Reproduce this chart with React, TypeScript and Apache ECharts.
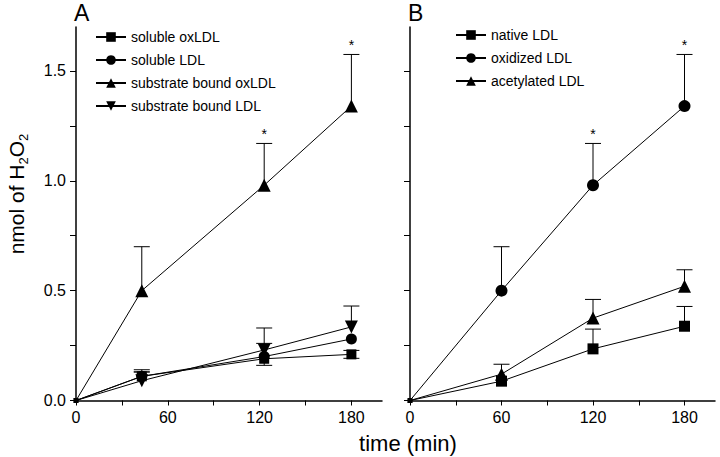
import { useEffect, useRef } from 'react';
import * as echarts from 'echarts';

// ---- Panel A data ----
const A_TIME = [0, 43, 123, 180];
const A_SOLUBLE_OX = [0, 0.11, 0.19, 0.21];
const A_SOLUBLE_OX_UP = [0, 0.03, 0, 0.018];
const A_SOLUBLE_OX_DOWN = [0, 0, 0.03, 0.018];
const A_SOLUBLE_LDL = [0, 0.11, 0.2, 0.28];
const A_SOLUBLE_LDL_UP = [0, 0.02, 0.06, 0];
const A_SUB_OX = [0, 0.5, 0.98, 1.34];
const A_SUB_OX_UP = [0, 0.2, 0.19, 0.235];
const A_SUB_OX_STAR = [0, 0, 1, 1];
const A_SUB_LDL = [0, 0.09, 0.23, 0.335];
const A_SUB_LDL_UP = [0, 0.04, 0.1, 0.095];

// ---- Panel B data ----
const B_TIME = [0, 60, 120, 180];
const B_NATIVE = [0, 0.088, 0.235, 0.338];
const B_NATIVE_UP = [0, 0, 0.09, 0.09];
const B_OXIDIZED = [0, 0.5, 0.98, 1.34];
const B_OXIDIZED_UP = [0, 0.2, 0.19, 0.235];
const B_OXIDIZED_STAR = [0, 0, 1, 1];
const B_ACETYLATED = [0, 0.12, 0.375, 0.52];
const B_ACETYLATED_UP = [0, 0.045, 0.085, 0.075];

const X_TICKS = [0, 30, 60, 90, 120, 150, 180];
const X_LABELS = [0, 60, 120, 180];
const Y_TICKS = [0, 0.25, 0.5, 0.75, 1, 1.25, 1.5];
const Y_LABELS = [0, 0.5, 1, 1.5];

const FONT = 'Liberation Sans, Arial, Helvetica, sans-serif';

function pairs(xs: number[], ys: number[]) {
  return xs.map((x, i) => (i === 0 ? { value: [x, ys[i]], symbolSize: 5 } : [x, ys[i]]));
}

function errData(xs: number[], ys: number[], up: number[], down?: number[], star?: number[]) {
  return xs.map((x, i) => [x, ys[i], up[i] || 0, down ? down[i] || 0 : 0, star ? star[i] || 0 : 0]);
}

function lineSeries(name: string, grid: number, xs: number[], ys: number[], symbol: string, size: number, rotate = 0) {
  return {
    name,
    type: 'line',
    xAxisIndex: grid,
    yAxisIndex: grid,
    data: pairs(xs, ys),
    symbol,
    symbolSize: size,
    symbolRotate: rotate,
    showAllSymbol: true,
    itemStyle: { color: '#000' },
    lineStyle: { color: '#000', width: 1 },
    z: 3,
  };
}

function errSeries(grid: number, data: number[][]) {
  return {
    type: 'custom',
    xAxisIndex: grid,
    yAxisIndex: grid,
    silent: true,
    z: 2,
    data,
    encode: { x: 0, y: 1 },
    renderItem: (_params: any, api: any) => {
      const x = api.value(0);
      const y = api.value(1);
      const up = api.value(2);
      const down = api.value(3);
      const star = api.value(4);
      const c = api.coord([x, y]);
      const style = { stroke: '#000', lineWidth: 1 };
      const children: any[] = [];
      if (up > 0) {
        const t = api.coord([x, y + up]);
        children.push({ type: 'line', shape: { x1: c[0], y1: c[1], x2: t[0], y2: t[1] }, style });
        children.push({ type: 'line', shape: { x1: t[0] - 8, y1: t[1], x2: t[0] + 8, y2: t[1] }, style });
        if (star) {
          children.push({
            type: 'text',
            style: { text: '*', x: t[0], y: t[1] - 2, align: 'center', verticalAlign: 'bottom', fontSize: 14, fontFamily: FONT, fill: '#000' },
          });
        }
      }
      if (down > 0) {
        const b = api.coord([x, y - down]);
        children.push({ type: 'line', shape: { x1: c[0], y1: c[1], x2: b[0], y2: b[1] }, style });
        children.push({ type: 'line', shape: { x1: b[0] - 8, y1: b[1], x2: b[0] + 8, y2: b[1] }, style });
      }
      return { type: 'group', children };
    },
  };
}

function xAxis(grid: number) {
  return {
    type: 'value',
    gridIndex: grid,
    min: 0,
    max: 200,
    axisLine: { show: true, onZero: false, lineStyle: { color: '#000', width: 1.5 } },
    axisTick: { show: true, length: 5, customValues: X_TICKS, lineStyle: { color: '#000', width: 1 } },
    axisLabel: { customValues: X_LABELS, fontSize: 16, color: '#000', fontFamily: FONT, margin: 9 },
    splitLine: { show: false },
  };
}

function yAxis(grid: number, labels: boolean) {
  return {
    type: 'value',
    gridIndex: grid,
    min: 0,
    max: 1.7,
    axisLine: { show: true, onZero: false, lineStyle: { color: '#000', width: 1.5 } },
    axisTick: { show: true, length: 6, customValues: Y_TICKS, lineStyle: { color: '#000', width: 1 } },
    axisLabel: {
      show: labels,
      customValues: Y_LABELS,
      fontSize: 16,
      color: '#000',
      fontFamily: FONT,
      margin: 10,
      formatter: (v: number) => v.toFixed(1),
    },
    splitLine: { show: false },
  };
}

function legend(left: number, top: number, names: string[]) {
  return {
    orient: 'vertical',
    left,
    top,
    padding: 0,
    data: names,
    itemWidth: 30,
    itemHeight: 12,
    itemGap: 9,
    selectedMode: false,
    textStyle: { fontSize: 14, color: '#000', fontFamily: FONT },
  };
}

export default function App() {
  const ref = useRef<HTMLDivElement>(null);
  useEffect(() => {
    if (!ref.current) return;
    const chart = echarts.init(ref.current, undefined, { renderer: 'svg' });
    chart.setOption({
      animation: false,
      backgroundColor: '#fff',
      textStyle: { fontFamily: FONT },
      grid: [
        { left: 76, top: 27, width: 306, height: 373.5 },
        { left: 410, top: 27, width: 305, height: 373.5 },
      ],
      xAxis: [xAxis(0), xAxis(1)],
      yAxis: [yAxis(0, true), yAxis(1, false)],
      legend: [
        legend(95, 30, ['soluble oxLDL', 'soluble LDL', 'substrate bound oxLDL', 'substrate bound LDL']),
        legend(455, 28, ['native LDL', 'oxidized LDL', 'acetylated LDL']),
      ],
      graphic: [
        { type: 'text', left: 74, top: 1, style: { text: 'A', fontSize: 23, fontFamily: FONT, fill: '#000' } },
        { type: 'text', left: 408, top: 1, style: { text: 'B', fontSize: 23, fontFamily: FONT, fill: '#000' } },
        {
          type: 'text',
          x: 408,
          y: 443,
          style: { text: 'time (min)', fontSize: 22, fontFamily: FONT, fill: '#000', align: 'center', verticalAlign: 'middle' },
        },
        {
          type: 'text',
          x: 16,
          y: 194,
          rotation: Math.PI / 2,
          style: {
            text: 'nmol of H{s|2}O{s|2}',
            fontSize: 21,
            lineHeight: 28,
            fontFamily: FONT,
            fill: '#000',
            align: 'center',
            verticalAlign: 'middle',
            rich: {
              s: { fontSize: 13, lineHeight: 13, verticalAlign: 'bottom', fontFamily: FONT, fill: '#000' },
            },
          },
        },
      ],
      series: [
        errSeries(0, errData(A_TIME, A_SOLUBLE_OX, A_SOLUBLE_OX_UP, A_SOLUBLE_OX_DOWN)),
        errSeries(0, errData(A_TIME, A_SOLUBLE_LDL, A_SOLUBLE_LDL_UP)),
        errSeries(0, errData(A_TIME, A_SUB_OX, A_SUB_OX_UP, undefined, A_SUB_OX_STAR)),
        errSeries(0, errData(A_TIME, A_SUB_LDL, A_SUB_LDL_UP)),
        errSeries(1, errData(B_TIME, B_NATIVE, B_NATIVE_UP)),
        errSeries(1, errData(B_TIME, B_OXIDIZED, B_OXIDIZED_UP, undefined, B_OXIDIZED_STAR)),
        errSeries(1, errData(B_TIME, B_ACETYLATED, B_ACETYLATED_UP)),
        lineSeries('soluble oxLDL', 0, A_TIME, A_SOLUBLE_OX, 'rect', 10),
        lineSeries('soluble LDL', 0, A_TIME, A_SOLUBLE_LDL, 'circle', 11),
        lineSeries('substrate bound oxLDL', 0, A_TIME, A_SUB_OX, 'triangle', 13),
        lineSeries('substrate bound LDL', 0, A_TIME, A_SUB_LDL, 'triangle', 13, 180),
        lineSeries('native LDL', 1, B_TIME, B_NATIVE, 'rect', 11),
        lineSeries('oxidized LDL', 1, B_TIME, B_OXIDIZED, 'circle', 12),
        lineSeries('acetylated LDL', 1, B_TIME, B_ACETYLATED, 'triangle', 13),
      ],
    });
    return () => chart.dispose();
  }, []);
  return <div ref={ref} style={{ position: 'fixed', left: 0, top: 0, width: 720, height: 457 }} />;
}
